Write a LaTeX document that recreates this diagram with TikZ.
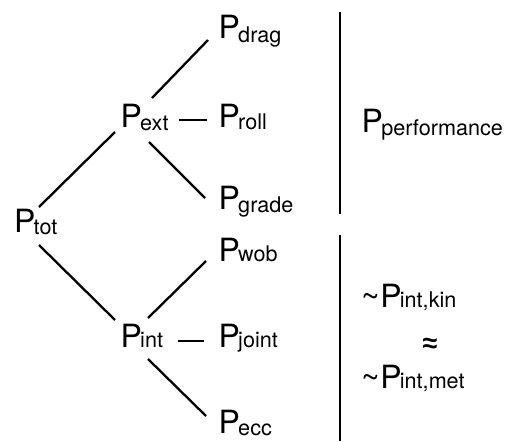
\documentclass[tikz,border=0pt]{standalone}
\usepackage{fontspec}
\setmainfont{TeX Gyre Heros}
\newfontfamily\symfont{Liberation Sans}
\usetikzlibrary{calc}
\newcommand\Pn[2][3.5pt]{P\kern-1.8pt\raisebox{-#1}{\fontsize{21.6}{23}\selectfont #2}}
\newcommand\tld{\symbol{"7E}\kern0.5pt}
\tikzset{
  lbl/.style={anchor=base west, inner sep=0pt, font=\fontsize{32}{33}\selectfont},
  conn/.style={line width=2.3pt},
  sep/.style={line width=2.8pt}
}
\begin{document}
\begin{tikzpicture}[x=1pt,y=-1pt]
\useasboundingbox (0,0) rectangle (505,441);
% nodes
\node[lbl] (ptot)  at (14,232) {\Pn[2.5pt]{tot}};
\node[lbl] (pext)  at (120.5,127) {\Pn[3pt]{ext}};
\node[lbl] (pint)  at (120.5,347) {\Pn[0pt]{int}};
\node[lbl] (pdrag) at (218.5,39) {\Pn{drag}};
\node[lbl] (proll) at (218.5,127) {\Pn[2.5pt]{roll}};
\node[lbl] (pgrade) at (218.5,209) {\Pn{grade}};
\node[lbl] (pwob)  at (218.5,261) {\Pn[0pt]{wob}};
\node[lbl] (pjoint) at (218.5,347) {\Pn[0pt]{joint}};
\node[lbl] (pecc)  at (218.5,433) {\Pn[2pt]{ecc}};
\node[lbl] (pperf) at (361.5,132) {\Pn{performance}};
\node[lbl] (pkin)  at (361,307) {\tld\Pn[0pt]{int,kin}};
\node[inner sep=0pt, font=\symfont\bfseries\fontsize{27}{27}\selectfont] (approx) at (430,345) {≈};
\node[lbl] (pmet)  at (361,388) {\tld\Pn[0pt]{int,met}};
% connectors
\draw[conn] ($(ptot.base west)+(25,-25)$) -- ($(pext.base west)+(-5.5,5)$);
\draw[conn] ($(ptot.base west)+(25,13)$) -- ($(pint.base west)+(-5.5,-27)$);
\draw[conn] ($(pext.base west)+(31.5,-29)$) -- ($(pdrag.base west)+(-10.5,1)$);
\draw[conn] ($(pext.base west)+(58.5,-7)$) -- ($(proll.base west)+(-11.5,-7)$);
\draw[conn] ($(pext.base west)+(28.5,15)$) -- ($(pgrade.base west)+(-13.5,-11)$);
\draw[conn] ($(pint.base west)+(27.5,-29)$) -- ($(pwob.base west)+(-12.5,0)$);
\draw[conn] ($(pint.base west)+(57.5,-6)$) -- ($(pjoint.base west)+(-14.5,-6)$);
\draw[conn] ($(pint.base west)+(27.5,12)$) -- ($(pecc.base west)+(-12.5,-17)$);
% separators
\draw[sep] (340,12) -- (340,214);
\draw[sep] (340,235) -- (340,441);
\end{tikzpicture}
\end{document}
